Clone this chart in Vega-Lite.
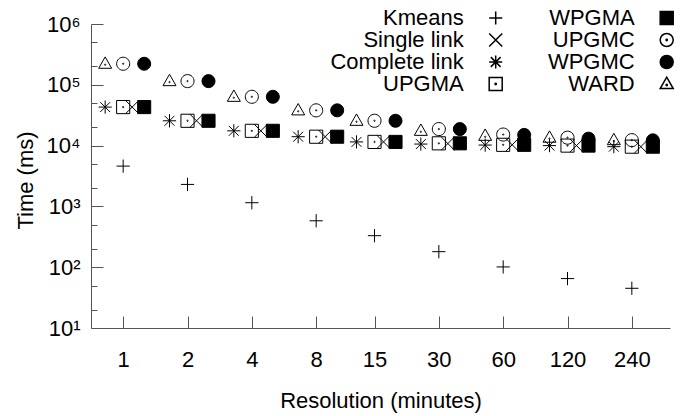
{
  "$schema": "https://vega.github.io/schema/vega-lite/v6.json",
  "width": 579,
  "height": 304,
  "autosize": {"type": "none"},
  "padding": {"left": 91, "top": 24, "right": 15, "bottom": 88},
  "background": "white",
  "config": {
    "view": {"stroke": null},
    "font": "Liberation Sans",
    "axis": {
      "grid": false,
      "domainColor": "#555555",
      "tickColor": "#555555",
      "labelColor": "black",
      "titleColor": "black",
      "labelFont": "Liberation Sans",
      "titleFont": "Liberation Sans",
      "labelFontSize": 22,
      "titleFontSize": 22,
      "titleFontWeight": "normal"
    },
    "legend": {
      "labelFont": "Liberation Sans",
      "labelFontSize": 22,
      "labelColor": "black"
    }
  },
  "data": {
    "values": [
      {"m": "Kmeans", "r": 1, "t": 4600},
      {"m": "Kmeans", "r": 2, "t": 2300},
      {"m": "Kmeans", "r": 4, "t": 1150},
      {"m": "Kmeans", "r": 8, "t": 580},
      {"m": "Kmeans", "r": 15, "t": 330},
      {"m": "Kmeans", "r": 30, "t": 180},
      {"m": "Kmeans", "r": 60, "t": 101},
      {"m": "Kmeans", "r": 120, "t": 65},
      {"m": "Kmeans", "r": 240, "t": 45},
      {"m": "Single link", "r": 1, "t": 43000},
      {"m": "Single link", "r": 2, "t": 25600},
      {"m": "Single link", "r": 4, "t": 17500},
      {"m": "Single link", "r": 8, "t": 14000},
      {"m": "Single link", "r": 15, "t": 11500},
      {"m": "Single link", "r": 30, "t": 10800},
      {"m": "Single link", "r": 60, "t": 10300},
      {"m": "Single link", "r": 120, "t": 10000},
      {"m": "Single link", "r": 240, "t": 9600},
      {"m": "Complete link", "r": 1, "t": 43000},
      {"m": "Complete link", "r": 2, "t": 25600},
      {"m": "Complete link", "r": 4, "t": 17500},
      {"m": "Complete link", "r": 8, "t": 14000},
      {"m": "Complete link", "r": 15, "t": 11500},
      {"m": "Complete link", "r": 30, "t": 10600},
      {"m": "Complete link", "r": 60, "t": 10200},
      {"m": "Complete link", "r": 120, "t": 10000},
      {"m": "Complete link", "r": 240, "t": 9600},
      {"m": "UPGMA", "r": 1, "t": 43000},
      {"m": "UPGMA", "r": 2, "t": 25600},
      {"m": "UPGMA", "r": 4, "t": 17500},
      {"m": "UPGMA", "r": 8, "t": 14000},
      {"m": "UPGMA", "r": 15, "t": 11500},
      {"m": "UPGMA", "r": 30, "t": 10900},
      {"m": "UPGMA", "r": 60, "t": 10300},
      {"m": "UPGMA", "r": 120, "t": 10000},
      {"m": "UPGMA", "r": 240, "t": 9600},
      {"m": "WPGMA", "r": 1, "t": 43000},
      {"m": "WPGMA", "r": 2, "t": 25600},
      {"m": "WPGMA", "r": 4, "t": 17500},
      {"m": "WPGMA", "r": 8, "t": 14000},
      {"m": "WPGMA", "r": 15, "t": 11500},
      {"m": "WPGMA", "r": 30, "t": 10900},
      {"m": "WPGMA", "r": 60, "t": 10300},
      {"m": "WPGMA", "r": 120, "t": 10000},
      {"m": "WPGMA", "r": 240, "t": 9600},
      {"m": "UPGMC", "r": 1, "t": 222000},
      {"m": "UPGMC", "r": 2, "t": 115000},
      {"m": "UPGMC", "r": 4, "t": 63500},
      {"m": "UPGMC", "r": 8, "t": 38000},
      {"m": "UPGMC", "r": 15, "t": 25600},
      {"m": "UPGMC", "r": 30, "t": 18700},
      {"m": "UPGMC", "r": 60, "t": 15200},
      {"m": "UPGMC", "r": 120, "t": 13500},
      {"m": "UPGMC", "r": 240, "t": 12300},
      {"m": "WPGMC", "r": 1, "t": 222000},
      {"m": "WPGMC", "r": 2, "t": 115000},
      {"m": "WPGMC", "r": 4, "t": 63500},
      {"m": "WPGMC", "r": 8, "t": 38000},
      {"m": "WPGMC", "r": 15, "t": 25600},
      {"m": "WPGMC", "r": 30, "t": 18700},
      {"m": "WPGMC", "r": 60, "t": 15000},
      {"m": "WPGMC", "r": 120, "t": 13000},
      {"m": "WPGMC", "r": 240, "t": 12200},
      {"m": "WARD", "r": 1, "t": 222000},
      {"m": "WARD", "r": 2, "t": 115000},
      {"m": "WARD", "r": 4, "t": 63500},
      {"m": "WARD", "r": 8, "t": 38000},
      {"m": "WARD", "r": 15, "t": 25600},
      {"m": "WARD", "r": 30, "t": 17500},
      {"m": "WARD", "r": 60, "t": 14500},
      {"m": "WARD", "r": 120, "t": 13500},
      {"m": "WARD", "r": 240, "t": 12300}
    ]
  },
  "encoding": {
    "x": {
      "field": "r",
      "type": "quantitative",
      "scale": {"type": "log", "base": 2, "domain": [0.7071, 362.04], "nice": false},
      "axis": {
        "values": [1, 2, 4, 8, 15, 30, 60, 120, 240],
        "format": "d",
        "title": "Resolution (minutes)",
        "tickSize": -12,
        "labelPadding": 33,
        "labelFlush": false,
        "labelOverlap": false,
        "titleX": 289.5,
        "titleY": 72,
        "titleAlign": "center",
        "titleBaseline": "middle"
      }
    },
    "y": {
      "field": "t",
      "type": "quantitative",
      "scale": {"type": "log", "domain": [10, 1000000], "nice": false},
      "axis": {
        "values": [10, 20, 50, 100, 200, 500, 1000, 2000, 5000, 10000, 20000, 50000, 100000, 200000, 500000, 1000000],
        "labelExpr": "indexof([10,100,1000,10000,100000,1000000], datum.value) >= 0 ? '10' + ['¹','²','³','⁴','⁵','⁶'][round(log(datum.value)/LN10) - 1] : ''",
        "tickSize": {"condition": {"test": "indexof([10,100,1000,10000,100000,1000000], datum.value) >= 0", "value": -12}, "value": -6},
        "labelPadding": 23,
        "labelFlush": false,
        "labelOverlap": false,
        "title": "Time (ms)",
        "titleX": -66,
        "titleY": 156,
        "titleAngle": -90,
        "titleAlign": "center",
        "titleBaseline": "middle"
      }
    },
    "shape": {
      "field": "m",
      "type": "nominal",
      "scale": {
        "domain": ["Kmeans", "Single link", "Complete link", "UPGMA", "WPGMA", "UPGMC", "WPGMC", "WARD"],
        "range": [
          "M-1,0L1,0M0,-1L0,1",
          "M-1,-1L1,1M-1,1L1,-1",
          "M-1,0L1,0M0,-1L0,1M-0.75,-0.75L0.75,0.75M-0.75,0.75L0.75,-0.75",
          "M-1,-1L1,-1L1,1L-1,1Z M0.1,0A0.1,0.1,0,1,1,-0.1,0A0.1,0.1,0,1,1,0.1,0Z",
          "M-1,-1L1,-1L1,1L-1,1Z",
          "M1,0A1,1,0,1,1,-1,0A1,1,0,1,1,1,0Z M0.1,0A0.1,0.1,0,1,1,-0.1,0A0.1,0.1,0,1,1,0.1,0Z",
          "circle",
          "M0,-1.05L1,0.7L-1,0.7Z M0.1,0.15A0.1,0.1,0,1,1,-0.1,0.15A0.1,0.1,0,1,1,0.1,0.15Z"
        ]
      },
      "legend": {
        "orient": "none",
        "legendX": 243.7,
        "legendY": -17,
        "direction": "vertical",
        "columns": 2,
        "title": null,
        "padding": 0,
        "labelAlign": "right",
        "labelOffset": -43,
        "symbolOffset": 150,
        "symbolSize": 169,
        "rowPadding": 0,
        "columnPadding": 0,
        "labelLimit": 400,
        "encode": {
          "symbols": {"update": {"stroke": {"value": "black"}, "strokeWidth": {"value": 1}, "opacity": {"value": 1}}}
        }
      }
    },
    "fill": {
      "field": "m",
      "type": "nominal",
      "scale": {
        "domain": ["Kmeans", "Single link", "Complete link", "UPGMA", "WPGMA", "UPGMC", "WPGMC", "WARD"],
        "range": ["transparent", "transparent", "transparent", "transparent", "black", "transparent", "black", "transparent"]
      }
    },
    "size": {
      "field": "m",
      "type": "nominal",
      "scale": {
        "domain": ["WARD", "WPGMC", "UPGMC", "WPGMA", "UPGMA", "Complete link", "Single link", "Kmeans"],
        "range": [169, 175, 144, 175, 144, 169, 100, 121]
      },
      "legend": null
    }
  },
  "layer": [
    {
      "transform": [{"filter": {"field": "m", "oneOf": ["WARD", "Complete link"]}}],
      "mark": {"type": "point", "filled": true, "stroke": "black", "strokeWidth": 1, "opacity": 1, "xOffset": -18}
    },
    {
      "transform": [{"filter": {"field": "m", "oneOf": ["UPGMC", "UPGMA", "Kmeans"]}}],
      "mark": {"type": "point", "filled": true, "stroke": "black", "strokeWidth": 1, "opacity": 1, "xOffset": 0}
    },
    {
      "transform": [{"filter": {"field": "m", "oneOf": ["Single link"]}}],
      "mark": {"type": "point", "filled": true, "stroke": "black", "strokeWidth": 1, "opacity": 1, "xOffset": 9}
    },
    {
      "transform": [{"filter": {"field": "m", "oneOf": ["WPGMC", "WPGMA"]}}],
      "mark": {"type": "point", "filled": true, "stroke": "black", "strokeWidth": 1, "opacity": 1, "xOffset": 21}
    }
  ]
}
